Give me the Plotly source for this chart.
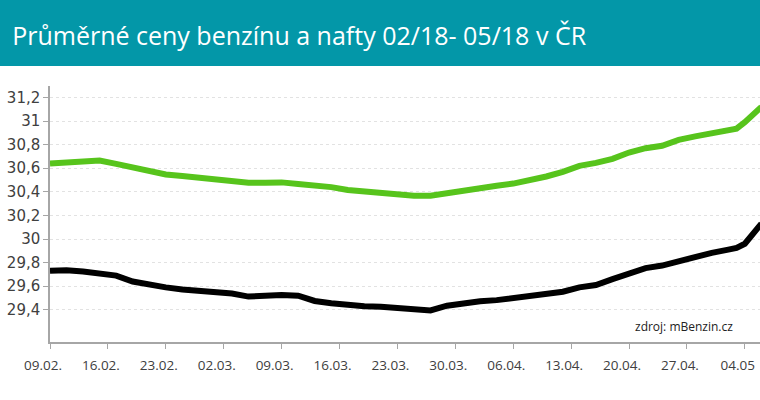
import plotly.graph_objects as go

# dates (every ~2 days) and average prices CZK/l
dates = [
    "2018-02-09", "2018-02-11", "2018-02-13", "2018-02-15", "2018-02-17",
    "2018-02-19", "2018-02-21", "2018-02-23", "2018-02-25", "2018-02-27",
    "2018-03-01", "2018-03-03", "2018-03-05", "2018-03-07", "2018-03-09",
    "2018-03-11", "2018-03-13", "2018-03-15", "2018-03-17", "2018-03-19",
    "2018-03-21", "2018-03-23", "2018-03-25", "2018-03-27", "2018-03-29",
    "2018-03-31", "2018-04-02", "2018-04-04", "2018-04-06", "2018-04-08",
    "2018-04-10", "2018-04-12", "2018-04-14", "2018-04-16", "2018-04-18",
    "2018-04-20", "2018-04-22", "2018-04-24", "2018-04-26", "2018-04-28",
    "2018-04-30", "2018-05-02", "2018-05-03", "2018-05-04", "2018-05-05",
    "2018-05-06",
]
benzin = [
    30.64, 30.65, 30.65, 30.665, 30.637,
    30.605, 30.575, 30.547, 30.535, 30.52,
    30.512, 30.495, 30.477, 30.477, 30.48,
    30.467, 30.455, 30.44, 30.415, 30.40,
    30.39, 30.38, 30.366, 30.367, 30.39,
    30.415, 30.437, 30.452, 30.47, 30.495,
    30.53, 30.57, 30.62, 30.645, 30.68,
    30.733, 30.77, 30.79, 30.84, 30.87,
    30.895, 30.923, 30.935, 30.99, 31.055,
    31.12,
]
nafta = [
    29.73, 29.735, 29.725, 29.712, 29.69,
    29.64, 29.612, 29.59, 29.572, 29.558,
    29.553, 29.538, 29.512, 29.52, 29.525,
    29.52, 29.475, 29.455, 29.44, 29.43,
    29.425, 29.412, 29.398, 29.395, 29.435,
    29.46, 29.473, 29.482, 29.50, 29.52,
    29.535, 29.553, 29.59, 29.61, 29.66,
    29.705, 29.753, 29.775, 29.81, 29.855,
    29.883, 29.91, 29.925, 29.96, 30.05,
    30.13,
]

x_tickvals = ["2018-02-09", "2018-02-16", "2018-02-23", "2018-03-02", "2018-03-09",
              "2018-03-16", "2018-03-23", "2018-03-30", "2018-04-06", "2018-04-13",
              "2018-04-20", "2018-04-27", "2018-05-04"]
x_ticktext = ["09.02.", "16.02.", "23.02.", "02.03.", "09.03.", "16.03.", "23.03.",
              "30.03.", "06.04.", "13.04.", "20.04.", "27.04.", "04.05"]
y_tickvals = [29.4, 29.6, 29.8, 30.0, 30.2, 30.4, 30.6, 30.8, 31.0, 31.2]
y_ticktext = ["29,4", "29,6", "29,8", "30", "30,2", "30,4", "30,6", "30,8", "31", "31,2"]

fig = go.Figure()
fig.add_trace(go.Scatter(x=dates, y=benzin, mode="lines", name="Benzín",
                         line=dict(color="#57C41C", width=6)))
fig.add_trace(go.Scatter(x=dates, y=nafta, mode="lines", name="Nafta",
                         line=dict(color="#000000", width=6)))

# teal title bar
fig.add_shape(type="rect", xref="paper", yref="paper",
              x0=-0.1, x1=1.1, y0=1.078, y1=1.4,
              fillcolor="#0397A8", line_width=0, layer="above")

fig.add_annotation(text="zdroj: mBenzin.cz", xref="paper", yref="paper",
                   x=0.965, y=0.0625, xanchor="right", yanchor="middle",
                   showarrow=False,
                   font=dict(family="Open Sans", size=12, color="#222222"))

fig.update_layout(
    width=760, height=400,
    margin=dict(l=50, r=0, t=86, b=58),
    paper_bgcolor="white", plot_bgcolor="white",
    showlegend=False,
    font=dict(family="DejaVu Sans", color="#404040"),
    title=dict(text="Průměrné ceny benzínu a nafty 02/18- 05/18 v ČR",
               x=0.016, xref="container", xanchor="left",
               y=0.91, yref="container", yanchor="middle",
               font=dict(family="Open Sans", size=25, color="white")),
)
fig.update_xaxes(
    range=["2018-02-09", "2018-05-05 20:00"],
    tickvals=x_tickvals, ticktext=x_ticktext, ticklabelshift=-7,
    ticklabelstandoff=5,
    showgrid=False, showline=True, linecolor="#A6A6A6", linewidth=1.5,
    ticks="outside", ticklen=5, tickcolor="#A6A6A6",
    tickfont=dict(family="Open Sans", size=13.5, color="#404040"),
)
fig.update_yaxes(
    range=[29.127, 31.297],
    tickvals=y_tickvals, ticktext=y_ticktext,
    showgrid=True, gridcolor="#E2E2E2", griddash="dot", gridwidth=1,
    zeroline=False,
    showline=True, linecolor="#A6A6A6", linewidth=1.5,
    ticks="outside", ticklen=5, tickcolor="#A6A6A6",
    tickfont=dict(family="DejaVu Sans", size=15, color="#404040"),
)

fig.write_html("out.html", config={"displayModeBar": False},
               post_script="document.body.style.margin='0';")
